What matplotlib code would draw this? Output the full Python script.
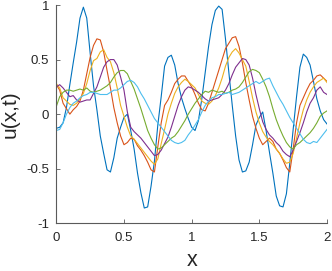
import matplotlib
matplotlib.use("Agg")
import matplotlib.pyplot as plt
import numpy as np

x = np.linspace(0, 2, 81)

u_blue = [
    -0.13, -0.12, -0.08, 0.06, 0.27, 0.47, 0.66, 0.88, 0.98, 0.88,
    0.56, 0.26, 0.04, -0.20, -0.36, -0.51, -0.53, -0.40, -0.22, -0.12,
    -0.03, 0.00, -0.15, -0.32, -0.54, -0.72, -0.86, -0.85, -0.66, -0.43,
    -0.10, 0.16, 0.44, 0.52, 0.54, 0.45, 0.28, 0.15, 0.05, -0.04,
    -0.12, -0.15, -0.06, 0.14, 0.38, 0.62, 0.82, 0.95, 0.99, 0.96,
    0.69, 0.38, 0.08, -0.20, -0.42, -0.53, -0.52, -0.44, -0.28, -0.10,
    -0.03, 0.02, -0.15, -0.35, -0.54, -0.75, -0.84, -0.85, -0.73, -0.45,
    -0.14, 0.16, 0.43, 0.55, 0.52, 0.45, 0.30, 0.14, 0.03, -0.05,
    -0.09,
]
u_orange = [
    0.27, 0.22, 0.10, 0.05, 0.00, 0.04, 0.07, 0.12, 0.22, 0.37,
    0.52, 0.63, 0.69, 0.68, 0.57, 0.40, 0.24, 0.06, -0.08, -0.20,
    -0.28, -0.26, -0.22, -0.23, -0.29, -0.33, -0.38, -0.44, -0.51, -0.53,
    -0.30, -0.08, 0.08, 0.13, 0.20, 0.28, 0.32, 0.35, 0.35, 0.30,
    0.25, 0.18, 0.10, 0.04, 0.03, 0.10, 0.20, 0.30, 0.40, 0.50,
    0.60, 0.65, 0.70, 0.71, 0.62, 0.47, 0.29, 0.13, -0.02, -0.13,
    -0.22, -0.28, -0.25, -0.22, -0.25, -0.32, -0.36, -0.42, -0.49, -0.53,
    -0.32, -0.08, 0.08, 0.15, 0.22, 0.28, 0.31, 0.35, 0.36, 0.33,
    0.30,
]
u_yellow = [
    0.28, 0.24, 0.15, 0.12, 0.09, 0.08, 0.10, 0.14, 0.19, 0.28,
    0.40, 0.49, 0.51, 0.57, 0.59, 0.52, 0.48, 0.38, 0.24, 0.08,
    -0.02, -0.12, -0.20, -0.23, -0.27, -0.31, -0.35, -0.39, -0.43, -0.46,
    -0.41, -0.27, -0.14, 0.00, 0.10, 0.19, 0.25, 0.29, 0.32, 0.30,
    0.27, 0.24, 0.18, 0.12, 0.10, 0.09, 0.12, 0.17, 0.24, 0.33,
    0.44, 0.52, 0.57, 0.60, 0.56, 0.50, 0.44, 0.30, 0.15, 0.02,
    -0.08, -0.16, -0.21, -0.25, -0.28, -0.32, -0.36, -0.41, -0.45, -0.44,
    -0.36, -0.22, -0.08, 0.04, 0.13, 0.20, 0.25, 0.29, 0.31, 0.33,
    0.29,
]
u_purple = [
    0.25, 0.27, 0.24, 0.20, 0.16, 0.17, 0.13, 0.11, 0.12, 0.13,
    0.13, 0.19, 0.25, 0.34, 0.43, 0.48, 0.50, 0.50, 0.45, 0.34,
    0.22, 0.02, -0.12, -0.16, -0.19, -0.22, -0.26, -0.30, -0.34, -0.38,
    -0.37, -0.33, -0.27, -0.21, -0.12, -0.02, 0.08, 0.16, 0.22, 0.25,
    0.24, 0.22, 0.20, 0.17, 0.14, 0.12, 0.13, 0.14, 0.15, 0.18,
    0.22, 0.28, 0.36, 0.43, 0.47, 0.51, 0.50, 0.45, 0.33, 0.18,
    0.05, -0.07, -0.14, -0.19, -0.22, -0.26, -0.29, -0.34, -0.37, -0.39,
    -0.33, -0.25, -0.17, -0.08, 0.02, 0.10, 0.15, 0.22, 0.25, 0.20,
    0.18,
]
u_green = [
    0.07, 0.16, 0.20, 0.22, 0.22, 0.21, 0.22, 0.23, 0.22, 0.24,
    0.21, 0.20, 0.21, 0.22, 0.24, 0.26, 0.29, 0.34, 0.38, 0.40,
    0.40, 0.37, 0.30, 0.23, 0.14, 0.05, -0.05, -0.15, -0.22, -0.28,
    -0.32, -0.31, -0.28, -0.25, -0.22, -0.20, -0.16, -0.11, -0.06, 0.00,
    0.05, 0.10, 0.14, 0.18, 0.21, 0.20, 0.22, 0.21, 0.20, 0.21,
    0.19, 0.20, 0.22, 0.23, 0.25, 0.29, 0.34, 0.39, 0.41, 0.40,
    0.38, 0.32, 0.25, 0.16, 0.05, -0.05, -0.13, -0.20, -0.26, -0.30,
    -0.32, -0.28, -0.26, -0.23, -0.20, -0.17, -0.13, -0.08, -0.02, 0.01,
    0.03,
]
u_cyan = [
    -0.15, -0.14, -0.08, 0.00, 0.06, 0.10, 0.12, 0.15, 0.17, 0.18,
    0.20, 0.20, 0.19, 0.18, 0.18, 0.18, 0.20, 0.22, 0.22, 0.24,
    0.27, 0.30, 0.31, 0.29, 0.25, 0.19, 0.14, 0.08, 0.02, -0.04,
    -0.08, -0.12, -0.16, -0.20, -0.24, -0.26, -0.27, -0.26, -0.24, -0.19,
    -0.15, -0.10, -0.05, 0.02, 0.08, 0.12, 0.15, 0.16, 0.18, 0.18,
    0.19, 0.20, 0.18, 0.19, 0.20, 0.22, 0.24, 0.26, 0.28, 0.30,
    0.28, 0.30, 0.32, 0.33, 0.26, 0.20, 0.14, 0.09, 0.03, -0.03,
    -0.08, -0.13, -0.18, -0.23, -0.26, -0.27, -0.25, -0.26, -0.22, -0.18,
    -0.14,
]

series = [u_blue, u_orange, u_yellow, u_purple, u_green, u_cyan]
colors = ["#0072BD", "#D95319", "#EDB120", "#7E2F8E", "#77AC30", "#4DBEEE"]

xticks = [0, 0.5, 1, 1.5, 2]
xticklabels = ["0", "0.5", "1", "1.5", "2"]
yticks = [-1, -0.5, 0, 0.5, 1]
yticklabels = ["-1", "-0.5", "0", "0.5", "1"]

plt.rcParams["font.family"] = ["Liberation Sans", "DejaVu Sans"]

fig = plt.figure(figsize=(3.32, 2.71), dpi=100)
ax = fig.add_axes([56.3 / 332, 1 - 223.3 / 271, (327 - 56.3) / 332, (223.3 - 5) / 271])

for y, c in zip(series, colors):
    ax.plot(x, y, color=c, lw=0.8)

ax.set_xlim(0, 2)
ax.set_ylim(-1, 1)
ax.set_xticks(xticks)
ax.set_xticklabels(xticklabels)
ax.set_yticks(yticks)
ax.set_yticklabels(yticklabels)

for s in ["top", "right"]:
    ax.spines[s].set_visible(False)
for s in ["left", "bottom"]:
    ax.spines[s].set_color("#5a5a5a")
    ax.spines[s].set_linewidth(0.8)

ax.tick_params(direction="in", length=3, width=0.6, color="#5a5a5a",
               labelsize=9.5, labelcolor="#262626")
ax.tick_params(axis="x", pad=6.5)
ax.tick_params(axis="y", pad=5)

ax.set_xlabel("x", fontsize=15.5, color="#262626", labelpad=4)
ax.set_ylabel("u(x,t)", fontsize=15, color="#262626", labelpad=5)

fig.savefig("out.png", dpi=100)
